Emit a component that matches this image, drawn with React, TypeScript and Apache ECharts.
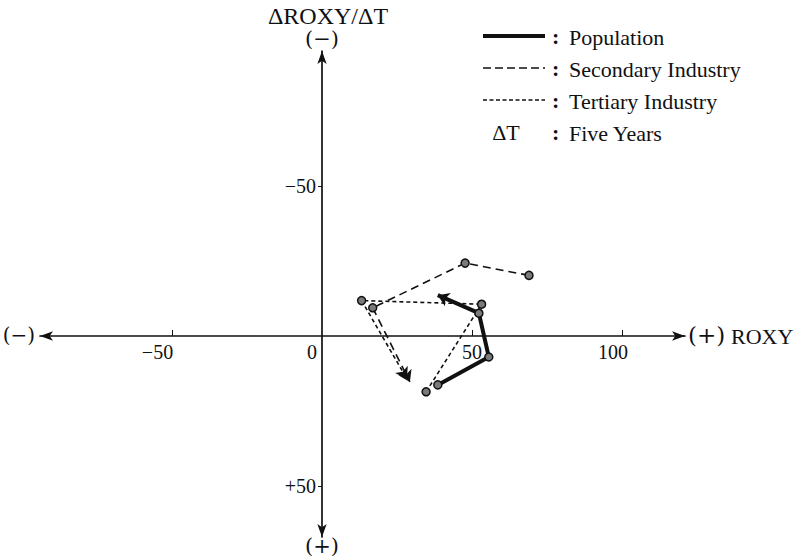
import React, { useEffect, useRef } from 'react';
import * as echarts from 'echarts';

// Trajectories in (ROXY, ΔROXY/ΔT) space
const populationPath: number[][] = [[38.6, 16.3], [55.6, 7.0], [52.3, -7.6], [38.6, -13.6]];
const secondaryPath: number[][] = [[69.0, -20.2], [47.7, -24.3], [16.9, -9.4], [29.3, 15.3]];
const tertiaryPath: number[][] = [[34.7, 18.6], [53.2, -10.6], [13.2, -11.8], [28.3, 14.3]];

const xLabelValues = [-50, 0, 50, 100];
const xTickValues = [-50, 50, 100];
const yLabelValues = [-50, 50];

const X_MIN = -94;
const X_MAX = 121;
const Y_MIN = -95;
const Y_MAX = 67;

const SERIF = 'Liberation Serif';
const SYM = 'DejaVu Serif';
const INK = '#111';

function pathSeries(name: string, pts: number[][], lineStyle: any) {
  const body = pts.slice(0, -1);
  const last = pts.slice(-2);
  return [
    {
      type: 'line',
      name,
      data: body,
      symbol: 'circle',
      symbolSize: 8,
      showSymbol: true,
      clip: false,
      itemStyle: { color: '#7a7a7a', borderColor: INK, borderWidth: 1.5 },
      lineStyle: { ...lineStyle, opacity: 1 },
      z: 4,
    },
    {
      type: 'lines',
      name: name + ' arrow',
      coordinateSystem: 'cartesian2d',
      data: [{ coords: last }],
      lineStyle: { ...lineStyle, opacity: 1, curveness: 0 },
      symbol: ['none', 'arrow'],
      symbolSize: 11,
      z: 3,
    },
  ];
}

export default function App() {
  const ref = useRef<HTMLDivElement>(null);
  useEffect(() => {
    const chart = echarts.init(ref.current!, null, { renderer: 'svg' });
    const W = 798;
    const H = 558;
    const gLeft = 40;
    const gRight = 113;
    const gTop = 51;
    const gBottom = 21;
    const gW = W - gLeft - gRight;
    const gH = H - gTop - gBottom;
    // move the axes so that they cross at the origin (labels follow)
    const xAxisOffset = -(Y_MAX / (Y_MAX - Y_MIN)) * gH;
    const yAxisOffset = -(-X_MIN / (X_MAX - X_MIN)) * gW;
    const legendX1 = 483;
    const legendX2 = 545;
    const legendFont = `22px "${SERIF}"`;
    const colonFont = `bold 22px "${SERIF}"`;
    const tickRich = (pad: number) => ({ padding: [0, pad, 0, 0], fontFamily: SERIF, fontSize: 20, color: INK });
    const option: any = {
      animation: false,
      backgroundColor: '#fff',
      grid: { left: gLeft, right: gRight, top: gTop, bottom: gBottom, containLabel: false },
      xAxis: {
        type: 'value',
        min: X_MIN,
        max: X_MAX,
        position: 'bottom',
        offset: xAxisOffset,
        axisLine: {
          onZero: false,
          symbol: ['arrow', 'arrow'],
          symbolSize: [7, 13],
          lineStyle: { color: INK, width: 1.7 },
        },
        axisTick: { show: true, inside: true, length: 6, customValues: xTickValues, lineStyle: { color: INK, width: 1 } },
        axisLabel: {
          customValues: xLabelValues,
          margin: 6,
          color: INK,
          fontFamily: SERIF,
          fontSize: 20,
          formatter: (v: number) => {
            if (v === 0) return '{z|0}';
            if (v === -50) return '{m|\u221250}';
            if (v === 100) return '{h|100}';
            return String(v);
          },
          rich: { z: tickRich(20), m: tickRich(29), h: tickRich(18) },
        },
        splitLine: { show: false },
      },
      yAxis: {
        type: 'value',
        inverse: true,
        min: Y_MIN,
        max: Y_MAX,
        position: 'left',
        offset: yAxisOffset,
        axisLine: {
          onZero: false,
          symbol: ['arrow', 'arrow'],
          symbolSize: [7, 13],
          lineStyle: { color: INK, width: 1.7 },
        },
        axisTick: { show: true, length: 4, customValues: yLabelValues, lineStyle: { color: INK, width: 1 } },
        axisLabel: {
          customValues: yLabelValues,
          margin: 6,
          color: INK,
          fontFamily: SERIF,
          fontSize: 20,
          formatter: (v: number) => (v < 0 ? '\u2212' + Math.abs(v) : '+' + v),
        },
        splitLine: { show: false },
      },
      graphic: [
        { type: 'text', x: 328, y: 16, style: { text: '\u0394ROXY/\u0394T', font: `24px "${SERIF}"`, fill: INK, align: 'center', verticalAlign: 'middle' } },
        { type: 'text', x: 322, y: 39, style: { text: '(\u2212)', font: `21px "${SYM}"`, fill: INK, align: 'center', verticalAlign: 'middle' } },
        { type: 'text', x: 322, y: 546, style: { text: '(+)', font: `21px "${SYM}"`, fill: INK, align: 'center', verticalAlign: 'middle' } },
        { type: 'text', x: 19, y: 335, style: { text: '(\u2212)', font: `20px "${SYM}"`, fill: INK, align: 'center', verticalAlign: 'middle' } },
        { type: 'text', x: 688, y: 335, style: { text: '(+)', font: `23px "${SYM}"`, fill: INK, align: 'left', verticalAlign: 'middle' } },
        { type: 'text', x: 731, y: 336, style: { text: 'ROXY', font: `22px "${SERIF}"`, fill: INK, align: 'left', verticalAlign: 'middle' } },
        // legend
        { type: 'line', shape: { x1: legendX1, y1: 36, x2: legendX2, y2: 36 }, style: { stroke: INK, lineWidth: 4 } },
        { type: 'line', shape: { x1: legendX1, y1: 68, x2: legendX2, y2: 68 }, style: { stroke: INK, lineWidth: 1.5, lineDash: [8, 4] } },
        { type: 'line', shape: { x1: legendX1, y1: 100, x2: legendX2, y2: 100 }, style: { stroke: INK, lineWidth: 1.5, lineDash: [4, 2.5] } },
        { type: 'text', x: 506, y: 132, style: { text: '\u0394T', font: legendFont, fill: INK, align: 'center', verticalAlign: 'middle' } },
        { type: 'text', x: 552, y: 36, style: { text: ':', font: colonFont, fill: INK, align: 'left', verticalAlign: 'middle' } },
        { type: 'text', x: 552, y: 68, style: { text: ':', font: colonFont, fill: INK, align: 'left', verticalAlign: 'middle' } },
        { type: 'text', x: 552, y: 100, style: { text: ':', font: colonFont, fill: INK, align: 'left', verticalAlign: 'middle' } },
        { type: 'text', x: 552, y: 132, style: { text: ':', font: colonFont, fill: INK, align: 'left', verticalAlign: 'middle' } },
        { type: 'text', x: 569, y: 37, style: { text: 'Population', font: legendFont, fill: INK, align: 'left', verticalAlign: 'middle' } },
        { type: 'text', x: 569, y: 69, style: { text: 'Secondary Industry', font: legendFont, fill: INK, align: 'left', verticalAlign: 'middle' } },
        { type: 'text', x: 569, y: 101, style: { text: 'Tertiary Industry', font: legendFont, fill: INK, align: 'left', verticalAlign: 'middle' } },
        { type: 'text', x: 569, y: 133, style: { text: 'Five Years', font: legendFont, fill: INK, align: 'left', verticalAlign: 'middle' } },
      ],
      series: [
        ...pathSeries('Population', populationPath, { color: INK, width: 4, type: 'solid' }),
        ...pathSeries('Secondary Industry', secondaryPath, { color: INK, width: 1.6, type: [8, 5] }),
        ...pathSeries('Tertiary Industry', tertiaryPath, { color: INK, width: 1.6, type: [4, 3] }),
      ],
    };
    chart.setOption(option);
    return () => chart.dispose();
  }, []);
  return (
    <div
      ref={ref}
      style={{ position: 'absolute', left: 0, top: 0, width: 798, height: 558, background: '#fff' }}
    />
  );
}
